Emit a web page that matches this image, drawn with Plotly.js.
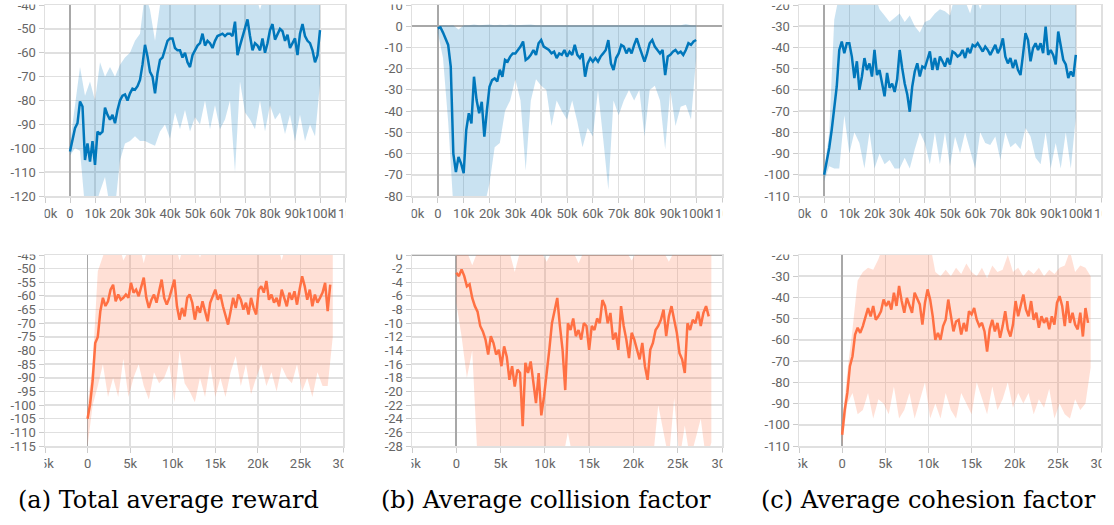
<!DOCTYPE html>
<html><head><meta charset="utf-8">
<script src="https://cdn.plot.ly/plotly-3.0.1.min.js"></script>
<style>html,body{margin:0;padding:0;background:#fff;} #chart{width:1114px;height:525px;}</style>
</head><body><div id="chart"></div>
<script>
// ---------- sampling grids (training steps) ----------
const topSmoothStep = 1000;   // smoothed curves, top row: every 1k steps
const topBandStep = 2000;     // raw min/max envelope, top row: every 2k steps
const botSmoothStep = 300;    // smoothed curves, bottom row: every 0.3k steps
const botBandStep = 600;      // raw min/max envelope, bottom row: every 0.6k steps

// ---------- tick labels ----------
const topXTickVals = [-10000,0,10000,20000,30000,40000,50000,60000,70000,80000,90000,100000,110000];
const topXTickText = ['-10k','0','10k','20k','30k','40k','50k','60k','70k','80k','90k','100k','110k'];
const botXTickVals = [-5000,0,5000,10000,15000,20000,25000,30000];
const botXTickText = ['-5k','0','5k','10k','15k','20k','25k','30k'];
const rewardTopYTicks = [-120,-110,-100,-90,-80,-70,-60,-50,-40];
const collisionTopYTicks = [-80,-70,-60,-50,-40,-30,-20,-10,0,10];
const cohesionTopYTicks = [-110,-100,-90,-80,-70,-60,-50,-40,-30,-20];
const rewardBotYTicks = [-115,-110,-105,-100,-95,-90,-85,-80,-75,-70,-65,-60,-55,-50,-45];
const collisionBotYTicks = [-28,-26,-24,-22,-20,-18,-16,-14,-12,-10,-8,-6,-4,-2,0];
const cohesionBotYTicks = [-110,-100,-90,-80,-70,-60,-50,-40,-30,-20];

const captions = ['(a) Total average reward','(b) Average collision factor','(c) Average cohesion factor'];

// ---------- top row (blue) ----------
const rewardTopSmooth = [-101.4,-96.5,-91.6,-89.5,-80.4,-82.5,-104.9,-98,-105.6,-97,
 -107,-93,-94,-93,-83,-86,-88,-86,-89.5,-84,
 -80,-78,-77.5,-80,-77,-75,-75.5,-74,-71.4,-65,
 -56.7,-61.6,-68,-70,-77,-68.6,-63,-62,-58.8,-55,
 -54,-54,-58,-59,-59,-62,-60,-64,-66,-61,
 -59,-57,-56,-52,-57,-55,-56,-58,-55,-53,
 -52.5,-52,-53,-52,-52,-53,-47,-61,-57,-53,
 -50,-46,-53,-59,-56,-57,-59,-54,-60,-56,
 -50.5,-48,-54.5,-52,-50,-51,-55,-52.5,-58,-56,
 -54,-61,-52,-48,-53,-55,-56,-59,-64,-61,-50.5];
const rewardTopHi = [-98,-83,-66,-78,-72,-80,-64,-70,-66,-70,-65,-62,-60,-55,-52,-35,-42,-55,-40,-38,
 -35,-35,-35,-38,-35,-35,-35,-38,-35,-35,-40,-35,-35,-35,-38,-35,-35,-35,-42,-35,
 -35,-35,-38,-35,-35,-38,-35,-35,-40,-35,-40];
const rewardTopLo = [-103,-100,-101,-125,-125,-125,-118,-112,-125,-125,-105,-98,-97,-95,-97,-97,-98,-99,-93,-90,
 -96,-85,-92,-84,-93,-87,-90,-80,-92,-82,-92,-88,-80,-110,-72,-85,-88,-92,-80,-93,
 -82,-88,-85,-94,-86,-97,-86,-97,-90,-95,-73];

const collisionTopSmooth = [-1,-0.5,-3,-5.7,-8.8,-19,-60,-68.7,-61.6,-64.7,
 -69.3,-48.8,-41,-45.8,-23.8,-34.8,-41,-35.6,-52,-39.5,
 -28.5,-25.4,-24.6,-26,-20.5,-23.8,-15.9,-16.7,-14.3,-12.8,
 -12.8,-11.2,-9.6,-7.2,-15.9,-15,-13.5,-11.2,-13.5,-8,
 -6.5,-9.6,-10.4,-11.2,-12.8,-12,-15,-12.8,-13.5,-11.2,
 -14.3,-12,-13.5,-8.8,-13.5,-15,-12.8,-23.8,-17.5,-15,
 -16.7,-15,-16.7,-14.3,-12.8,-11.2,-6.5,-17.5,-20.6,-15,
 -12.8,-8.8,-9.6,-12.8,-10.4,-12.8,-8.8,-5.7,-9.6,-13.5,
 -16.7,-12.8,-8,-6.5,-9.6,-11.2,-12.8,-11.2,-23,-14.3,
 -13.5,-12,-11.2,-12.8,-12,-13.5,-11.2,-8,-8.8,-7.2,-6.5];
const collisionTopHi = [0,0.5,0.3,0.5,-1.5,0.5,0.5,0.8,0.5,0.6,0.8,0.5,0.7,0.5,0.8,0.5,0.6,0.5,0.8,0.5,
 0.5,0.7,0.8,0.5,0.6,0.5,0.8,0.5,0.5,0.7,0.8,0.5,0.6,0.5,0.8,0.5,0.5,0.7,0.8,0.5,
 0.5,0.5,0.8,0.6,0.5,0.5,0.8,0.5,1.0,0.5,0.5];
const collisionTopLo = [-3,-15,-45,-85,-85,-85,-85,-85,-85,-85,-74,-57,-55,-40,-35,-25,-35,-68,-35,-25,
 -28,-30,-47,-35,-40,-44,-35,-45,-57,-48,-52,-30,-53,-77,-35,-42,-35,-30,-35,-30,
 -52,-30,-28,-35,-58,-30,-47,-38,-37,-44,-15];

const cohesionTopSmooth = [-100,-93.7,-87.4,-78.8,-67.8,-58.4,-41.2,-37.2,-42.7,-38,
 -38,-44.3,-54.4,-46.5,-60,-53.7,-45,-50.6,-47.5,-53.7,
 -41.2,-53,-50.6,-56,-63,-52,-59,-57,-61,-55,
 -41.2,-49.7,-57,-62,-70.3,-58.4,-51.3,-47.5,-53.7,-49,
 -49.7,-45.8,-41.9,-50.6,-45,-50.6,-44.3,-46.5,-49,-45,
 -48,-41.9,-42.7,-44.3,-43.5,-41.2,-45,-40.3,-42.7,-38.8,
 -39.6,-38,-40.3,-41.9,-39.6,-41.2,-43.5,-41.2,-38.8,-42.7,
 -40.3,-35.7,-44.3,-47.5,-45,-49.7,-45.8,-50.6,-53,-43.5,
 -33.3,-36.5,-46.5,-40.3,-38,-41.2,-38,-42.7,-30.2,-43.5,
 -41.2,-43.5,-48,-32.5,-38.8,-45.8,-48,-54.4,-51.3,-53.7,-43.5];
const cohesionTopHi = [-98,-80,-27,-15,-15,-15,-15,-15,-18,-15,-15,-22,-25,-28,-26,-24,-28,-25,-30,-33,
 -28,-27,-24,-22,-23,-25,-15,-15,-18,-24,-15,-22,-15,-15,-15,-17,-15,-15,-15,-20,
 -15,-15,-15,-15,-15,-15,-18,-15,-15,-15,-20];
const cohesionTopLo = [-103,-96,-97,-97,-72,-90,-80,-85,-97,-80,-97,-90,-95,-93,-97,-97,-92,-97,-88,-80,
 -85,-95,-80,-95,-80,-96,-82,-90,-80,-88,-97,-80,-85,-86,-82,-93,-80,-87,-85,-88,
 -78,-82,-92,-95,-80,-97,-85,-97,-80,-97,-73];

// ---------- bottom row (orange) ----------
const rewardBotSmooth = [-105,-99.5,-91,-77.3,-75,-65.6,-60.7,-63.7,-62,-57.7,
 -55.9,-62,-59.5,-61.4,-60.7,-59.5,-60.7,-55.2,-58.8,-57.7,
 -60.1,-56.4,-53.3,-60.7,-64.4,-61.4,-59.5,-62.5,-57.7,-54,
 -60.7,-63.2,-60.7,-57.7,-54,-63.8,-68.7,-64.4,-67.5,-60.7,
 -59.5,-62.5,-68.7,-63.8,-66.2,-62,-65.6,-69.3,-62.5,-60,
 -57.7,-61.4,-59.5,-63.8,-66.8,-70.5,-65.6,-60.7,-64.4,-59.5,
 -61.4,-65,-62.5,-66.8,-60.7,-64.4,-66.8,-57.7,-56.4,-58.8,
 -54.5,-61.4,-59.5,-62.5,-60.7,-63.8,-57.7,-60.7,-63.8,-58.8,
 -61.4,-58.3,-63.2,-57.7,-52.8,-56.4,-61.4,-57.7,-63.8,-59.5,
 -62.5,-60.7,-58.8,-55.2,-65.6,-55.9];
const rewardBotHi = [-100,-85,-51,-45,-40,-40,-40,-47,-43,-40,-40,-48,-40,-40,-40,-40,-40,-40,-47,-40,
 -40,-40,-46,-40,-40,-40,-40,-40,-40,-40,-44,-40,-40,-40,-40,-40,-40,-40,-47,-40,
 -40,-40,-40,-40,-40,-40,-40,-40,-40];
const rewardBotLo = [-115,-100,-93,-85,-97,-90,-97,-83,-97,-90,-85,-93,-98,-88,-92,-90,-85,-99,-80,-92,
 -95,-99,-90,-97,-85,-97,-90,-97,-88,-82,-93,-85,-96,-90,-85,-93,-88,-95,-86,-90,
 -92,-85,-95,-90,-97,-88,-93,-93,-75];

const collisionBotSmooth = [-2.6,-3.1,-2.1,-3.1,-4.6,-4.3,-6.3,-7.5,-8.3,-10.4,
 -11.2,-12.4,-14.6,-11.9,-12.9,-14.6,-13.9,-16.3,-13.4,-14.9,
 -18.3,-16.3,-19.3,-16.8,-17.3,-25.1,-15.8,-17.3,-15.6,-18.3,
 -21.7,-17.3,-23.5,-20.8,-16.8,-13.9,-10,-8,-6.3,-10.4,
 -13.9,-19.8,-10,-11,-9.3,-11.9,-11,-12.4,-10,-10.4,
 -13.9,-10.4,-11,-9.3,-10,-6.6,-7.5,-10,-8.5,-12.4,
 -11.4,-13.9,-7.5,-10.4,-12.4,-15.1,-11.4,-12.4,-13.9,-15.3,
 -12.9,-16.3,-18.3,-13.9,-12.9,-11,-10.4,-9.5,-8,-11.9,
 -9,-7.5,-9.5,-11.4,-14.4,-15.3,-17.3,-10,-11,-9.5,
 -10,-8.3,-10.4,-8.5,-7.5,-9];
const collisionBotHi = [0.5,0.5,0.5,-1.5,0.5,0.5,0.5,0.5,0.5,0.5,0.5,-2.5,0.5,0.5,0.5,0.5,0.5,-1,0.5,0.5,
 0.5,0.5,0.5,-1.2,0.5,0.5,0.5,0.5,0.5,0.5,0.5,0.5,0.5,-0.8,0.5,0.5,0.5,0.5,0.5,0.5,
 -1,0.5,0.5,0.5,0.5,0.5,0.5,0.5,0.5];
const collisionBotLo = [-7,-12,-18,-14,-30,-30,-30,-30,-30,-30,-30,-30,-30,-30,-30,-30,-30,-30,-30,-30,
 -30,-26,-30,-30,-30,-30,-30,-30,-30,-30,-30,-30,-30,-30,-30,-30,-30,-30,-22,-26,
 -30,-21,-30,-25,-30,-27,-24,-30,-27.5];

const cohesionBotSmooth = [-104.7,-93,-85,-72.4,-67.7,-57.5,-54.3,-56.7,-53.5,-49.6,
 -45,-48.9,-44,-50.5,-48.9,-46.5,-41,-44,-41.7,-45.7,
 -37.8,-44,-34.6,-41.7,-47.2,-40.2,-44,-47.2,-37.8,-40.2,
 -43.3,-52.8,-42.5,-36.2,-41,-48.9,-60,-56.7,-60,-53.5,
 -50.5,-41,-49.6,-56,-51.3,-50.5,-57.5,-52,-56,-46.5,
 -48,-45,-50.5,-53.5,-52,-56,-65.5,-55,-50.5,-56,
 -52,-59,-53.5,-46.5,-55,-58.4,-52.8,-41.7,-48.9,-44,
 -38.6,-45.7,-48.9,-41.7,-50.5,-47.2,-54.3,-48.9,-52,-49.6,
 -55,-48.9,-52.8,-42.5,-39.4,-44,-53.5,-41.7,-52,-47.2,
 -52.8,-55,-47.2,-58.4,-45,-52];
const cohesionBotHi = [-100,-75,-55,-32,-28,-26,-27,-22,-15,-15,-15,-15,-15,-15,-15,-15,-15,-15,-28,-30,
 -27,-30,-26,-29,-24,-28,-30,-26,-31,-25,-28,-27,-20,-28,-26,-30,-27,-29,-26,-30,
 -27,-29,-26,-25,-18,-28,-25,-26,-30];
const cohesionBotLo = [-110,-90,-85,-95,-93,-85,-97,-88,-90,-95,-82,-97,-93,-85,-97,-88,-80,-97,-90,-97,
 -85,-93,-97,-85,-90,-95,-80,-88,-95,-82,-93,-88,-80,-92,-85,-90,-85,-95,-88,-92,
 -83,-97,-90,-95,-97,-88,-93,-90,-73];

// ---------- geometry ----------
const W = 1114, H = 525;
const BLUE = '#0077bb', BLUE_BAND = 'rgba(0,119,187,0.21)';
const ORANGE = '#ff7043', ORANGE_BAND = 'rgba(255,112,67,0.22)';

function grid(n, step) { const a = []; for (let i = 0; i < n; i++) a.push(i * step); return a; }

const panels = [
  {smooth: rewardTopSmooth, hi: rewardTopHi, lo: rewardTopLo, sStep: topSmoothStep, bStep: topBandStep,
   px: [45, 345], py: [5, 196], xr: [-10000, 110000], yr: [-120, -40], yt: rewardTopYTicks, top: true, c: BLUE, band: BLUE_BAND},
  {smooth: collisionTopSmooth, hi: collisionTopHi, lo: collisionTopLo, sStep: topSmoothStep, bStep: topBandStep,
   px: [412, 722], py: [5, 196], xr: [-10000, 110000], yr: [-80, 10], yt: collisionTopYTicks, top: true, c: BLUE, band: BLUE_BAND},
  {smooth: cohesionTopSmooth, hi: cohesionTopHi, lo: cohesionTopLo, sStep: topSmoothStep, bStep: topBandStep,
   px: [799, 1101], py: [5, 196], xr: [-10000, 110000], yr: [-110, -20], yt: cohesionTopYTicks, top: true, c: BLUE, band: BLUE_BAND},
  {smooth: rewardBotSmooth, hi: rewardBotHi, lo: rewardBotLo, sStep: botSmoothStep, bStep: botBandStep,
   px: [45, 343], py: [255, 446], xr: [-5000, 30000], yr: [-115, -45], yt: rewardBotYTicks, top: false, c: ORANGE, band: ORANGE_BAND},
  {smooth: collisionBotSmooth, hi: collisionBotHi, lo: collisionBotLo, sStep: botSmoothStep, bStep: botBandStep,
   px: [412, 722], py: [255, 446], xr: [-5000, 30000], yr: [-28, 0], yt: collisionBotYTicks, top: false, c: ORANGE, band: ORANGE_BAND},
  {smooth: cohesionBotSmooth, hi: cohesionBotHi, lo: cohesionBotLo, sStep: botSmoothStep, bStep: botBandStep,
   px: [799, 1101], py: [255, 446], xr: [-5000, 30000], yr: [-110, -20], yt: cohesionBotYTicks, top: false, c: ORANGE, band: ORANGE_BAND}
];

const tickFont = {family: 'Roboto, "Noto Sans", sans-serif', size: 13, color: '#666666'};
const axisCommon = {
  ticks: 'outside', ticklen: 5, tickwidth: 1, tickcolor: '#cccccc',
  showgrid: true, gridcolor: '#e0e0e0', gridwidth: 1.5,
  zeroline: true, zerolinecolor: '#a8a8a8', zerolinewidth: 1.8,
  showline: true, mirror: true, linecolor: '#e0e0e0', linewidth: 1.5,
  tickfont: tickFont, fixedrange: true, automargin: false, ticklabeloverflow: 'allow'
};

const traces = [];
const layout = {
  width: W, height: H, margin: {l: 0, r: 0, t: 0, b: 0},
  paper_bgcolor: '#ffffff', plot_bgcolor: '#ffffff', showlegend: false,
  shapes: [], annotations: []
};
const white = {type: 'rect', xref: 'paper', yref: 'paper', fillcolor: '#ffffff', line: {width: 0}, layer: 'above'};
const rect = (x0, x1, y0, y1) => Object.assign({}, white, {x0: x0 / W, x1: x1 / W, y0: 1 - y1 / H, y1: 1 - y0 / H});

panels.forEach((p, i) => {
  const n = i + 1, sfx = n === 1 ? '' : String(n);
  const xa = 'x' + sfx, ya = 'y' + sfx;
  const bx = grid(p.hi.length, p.bStep);
  traces.push({x: bx, y: p.lo, xaxis: xa, yaxis: ya, type: 'scatter', mode: 'lines', line: {width: 0}, hoverinfo: 'skip'});
  traces.push({x: bx, y: p.hi, xaxis: xa, yaxis: ya, type: 'scatter', mode: 'lines', line: {width: 0},
               fill: 'tonexty', fillcolor: p.band, hoverinfo: 'skip'});
  traces.push({x: grid(p.smooth.length, p.sStep), y: p.smooth, xaxis: xa, yaxis: ya, type: 'scatter', mode: 'lines',
               line: {color: p.c, width: 2.5}});
  layout['xaxis' + sfx] = Object.assign({}, axisCommon, {
    domain: [p.px[0] / W, p.px[1] / W], range: p.xr, anchor: ya,
    tickvals: p.top ? topXTickVals : botXTickVals, ticktext: p.top ? topXTickText : botXTickText, tickangle: 0
  });
  layout['yaxis' + sfx] = Object.assign({}, axisCommon, {
    domain: [1 - p.py[1] / H, 1 - p.py[0] / H], range: p.yr, anchor: xa,
    tickvals: p.yt, ticktext: p.yt.map(String)
  });
  // clip labels the way the original screenshots were cropped
  layout.shapes.push(rect(p.px[0] - 46, p.px[0] - 0.5, p.py[0] - 16, p.py[0] - 0.5));
  layout.shapes.push(rect(p.px[0] - 32, p.px[0] - 0.5, p.py[1] + 6, p.py[1] + 28));
  layout.shapes.push(rect(p.px[1] + 0.5, p.px[1] + 32, p.py[1] + 6, p.py[1] + 28));
});

const capX = [168, 546, 928];
captions.forEach((t, i) => {
  layout.annotations.push({text: t, xref: 'paper', yref: 'paper', x: capX[i] / W, y: 1 - 500 / H,
    xanchor: 'center', yanchor: 'middle', showarrow: false,
    font: {family: '"DejaVu Serif", serif', size: 24, color: '#000000'}});
});

Plotly.newPlot('chart', traces, layout, {staticPlot: true, displayModeBar: false});
</script>
</body></html>
